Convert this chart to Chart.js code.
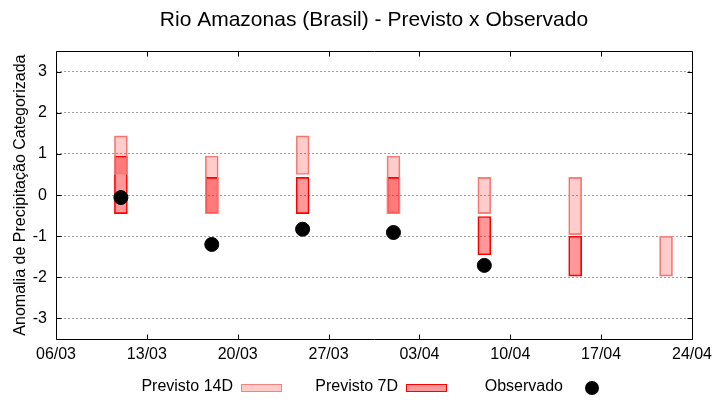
<!DOCTYPE html>
<html>
<head>
<meta charset="utf-8">
<title>Rio Amazonas (Brasil) - Previsto x Observado</title>
<script src="https://cdn.jsdelivr.net/npm/chart.js@4"></script>
<style>
  body { margin: 0; background: #fff; }
  #wrap { width: 720px; height: 400px; }
</style>
</head>
<body>
<div id="wrap"><canvas id="grafico"></canvas></div>
<script>
// dias contados a partir de 06/03 (dia 0)
const dias = [5, 12, 19, 26, 33, 40, 47];

// previsao 14 dias (min / max da faixa)
const prev14Min = [0.5, -0.45, 0.5, -0.45, -0.45, -0.96, -1.97];
const prev14Max = [1.44, 0.95, 1.44, 0.95, 0.43, 0.43, -1.0];

// previsao 7 dias (ultima semana sem previsao)
const prev7Min = [-0.45, -0.45, -0.45, -0.45, -1.45, -1.97, null];
const prev7Max = [0.95, 0.43, 0.43, 0.43, -0.52, -1.0, null];

// observado (so ate 08/04)
const observado = [-0.06, -1.2, -0.83, -0.91, -1.71];

const xTicks = [0, 7, 14, 21, 28, 35, 42, 49];
const xLabels = ['06/03', '13/03', '20/03', '27/03', '03/04', '10/04', '17/04', '24/04'];
const yTicks = [-3, -2, -1, 0, 1, 2, 3];

const fonte = 'Liberation Sans, Arial, sans-serif';

function faixa(mins, maxs) {
  const out = [];
  for (let i = 0; i < dias.length; i++) {
    if (mins[i] == null) continue;
    out.push({ x: dias[i], y: [mins[i], maxs[i]] });
  }
  return out;
}

// moldura completa com ticks para dentro (estilo gnuplot)
const moldura = {
  id: 'moldura',
  afterDraw(chart) {
    const c = chart.ctx, a = chart.chartArea;
    const sx = chart.scales.x, sy = chart.scales.y;
    const L = Math.round(a.left) + 0.5, R = Math.round(a.right) + 0.5;
    const T = Math.round(a.top) + 0.5, B = Math.round(a.bottom) + 0.5;
    c.save();
    c.strokeStyle = '#000';
    c.lineWidth = 1;
    c.beginPath();
    c.rect(L, T, R - L, B - T);
    xTicks.forEach(v => {
      const px = Math.round(sx.getPixelForValue(v)) + 0.5;
      c.moveTo(px, B); c.lineTo(px, B - 5);
      c.moveTo(px, T); c.lineTo(px, T + 5);
    });
    yTicks.forEach(v => {
      const py = Math.round(sy.getPixelForValue(v)) + 0.5;
      c.moveTo(L, py); c.lineTo(L + 5, py);
      c.moveTo(R, py); c.lineTo(R - 5, py);
    });
    c.stroke();
    c.restore();
  }
};

// legenda no rodape: texto a direita, amostra depois
const legenda = {
  id: 'legenda',
  afterDraw(chart) {
    const c = chart.ctx;
    const ds = chart.data.datasets;
    const itens = [ds[1], ds[2], ds[0]];
    c.save();
    c.font = '16px ' + fonte;
    c.textAlign = 'right';
    c.textBaseline = 'middle';
    itens.forEach((d, i) => {
      const xt = 233 + 165 * i;
      c.fillStyle = '#000';
      c.fillText(d.label, xt, 387);
      if (d.type === 'scatter') {
        c.beginPath();
        c.arc(xt + 29, 388, 7, 0, Math.PI * 2);
        c.fillStyle = d.backgroundColor;
        c.fill();
      } else {
        c.fillStyle = '#fff';
        c.fillRect(xt + 8.5, 384.5, 40, 7);
        c.fillStyle = d.backgroundColor;
        c.fillRect(xt + 8.5, 384.5, 40, 7);
        c.strokeStyle = d.borderColor;
        c.lineWidth = 1;
        c.strokeRect(xt + 8.5, 384.5, 40, 7);
      }
    });
    c.restore();
  }
};

Chart.defaults.font.family = fonte;
Chart.defaults.color = '#000';

new Chart(document.getElementById('grafico'), {
  data: {
    datasets: [
      {
        type: 'scatter',
        label: 'Observado',
        data: observado.map((v, i) => ({ x: dias[i], y: v })),
        backgroundColor: '#000',
        borderColor: '#000',
        pointRadius: 7,
        pointHoverRadius: 7,
        order: 0
      },
      {
        type: 'bar',
        label: 'Previsto 14D',
        data: faixa(prev14Min, prev14Max),
        backgroundColor: 'rgba(255,0,0,0.2)',
        borderColor: '#f4837d',
        borderWidth: 1,
        borderSkipped: false,
        barThickness: 13,
        grouped: false,
        order: 1
      },
      {
        type: 'bar',
        label: 'Previsto 7D',
        data: faixa(prev7Min, prev7Max),
        backgroundColor: 'rgba(255,0,0,0.4)',
        borderColor: '#ff0000',
        borderWidth: 1,
        borderSkipped: false,
        barThickness: 13,
        grouped: false,
        order: 2
      }
    ]
  },
  options: {
    responsive: true,
    maintainAspectRatio: false,
    animation: false,
    layout: { padding: { top: 0, right: 28, bottom: 39, left: 0 } },
    plugins: {
      legend: { display: false },
      tooltip: { enabled: false },
      title: {
        display: true,
        text: 'Rio Amazonas (Brasil) - Previsto x Observado',
        fullSize: false,
        font: { size: 21, weight: 'normal' },
        color: '#000',
        padding: { top: 8, bottom: 18 }
      }
    },
    scales: {
      x: {
        type: 'linear',
        min: 0,
        max: 49,
        offset: false,
        grid: { display: false, drawTicks: false, offset: false },
        border: { display: false },
        afterBuildTicks: s => { s.ticks = xTicks.map(v => ({ value: v })); },
        afterFit: s => { s.height = 22; },
        ticks: {
          padding: 6,
          maxRotation: 0,
          autoSkip: false,
          font: { size: 16 },
          callback: (v) => xLabels[xTicks.indexOf(v)]
        }
      },
      y: {
        min: -3.5,
        max: 3.5,
        grid: { color: '#a0a0a0', drawTicks: false },
        border: { display: false, dash: [2, 2] },
        afterBuildTicks: s => { s.ticks = yTicks.map(v => ({ value: v })); },
        afterFit: s => { s.width = 56; },
        ticks: { padding: 9, font: { size: 16 } },
        title: {
          display: true,
          text: 'Anomalia de Precipitação Categorizada',
          font: { size: 16 },
          color: '#000',
          padding: { top: 11, bottom: 0 }
        }
      }
    }
  },
  plugins: [moldura, legenda]
});
</script>
</body>
</html>
